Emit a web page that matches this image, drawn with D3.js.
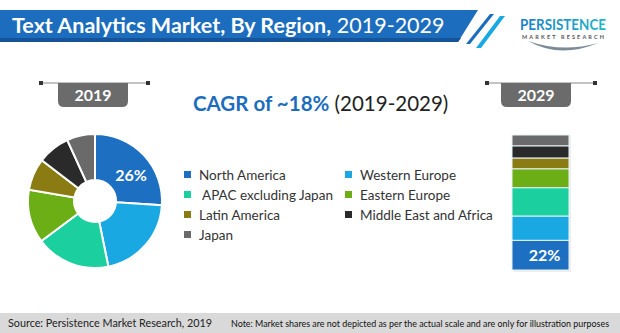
<!DOCTYPE html>
<html><head><meta charset="utf-8">
<script src="https://cdn.jsdelivr.net/npm/d3@7"></script>
<style>
html,body{margin:0;padding:0;background:#fff;}
svg{display:block;}
text{font-family:Lato,"Open Sans",sans-serif;}
</style></head>
<body>
<svg id="c" width="620" height="333"></svg>
<script>
const regions = ["North America","Western Europe","APAC excluding Japan","Eastern Europe","Latin America","Middle East and Africa","Japan"];
const colors = ["#1c6fc1","#1aa8e2","#1ccf9f","#6cae16","#8a7b12","#2a2a2a","#6a6a6a"];
const share2019 = [26,20.8,18,12.9,7.7,7.8,6.8];
const share2029 = [22,18,21,14,8,9,8];
const legendOrder = ["North America","Western Europe","APAC excluding Japan","Eastern Europe","Latin America","Middle East and Africa","Japan"];
const years = ["2019","2029"];
const pieLabel = "26%";
const barLabel = "22%";

const svg = d3.select("#c");

// Header banner
const hdr = svg.append("g");
hdr.append("path").attr("d","M0,10 L478,10 L458,42 L0,42 Z").attr("fill","#1c6dbe");
hdr.append("path").attr("d","M0,38 L461,38 L458,42 L0,42 Z").attr("fill","#15549a");
hdr.append("path").attr("d","M466,44 L490,14 L494,14 L470,44 Z").attr("fill","#1c6dbe");
hdr.append("path").attr("d","M476,48 L500,16 L505,16 L481,48 Z").attr("fill","#1aa8e2");
const title = hdr.append("text").attr("x",12).attr("y",33).attr("fill","#fff").attr("font-size",21.5);
title.append("tspan").attr("font-weight","bold").text("Text Analytics Market, By Region,");
title.append("tspan").text(" 2019-2029");

// Logo
const logo = svg.append("g");
const lg = svg.append("defs").append("linearGradient").attr("id","lg").attr("x1","0").attr("x2","1");
lg.append("stop").attr("offset","0").attr("stop-color","#1b7fc8");
lg.append("stop").attr("offset","1").attr("stop-color","#20b6c9");
logo.append("text").attr("x",563).attr("y",30).attr("text-anchor","middle").attr("font-size",15)
  .attr("font-family","'Liberation Sans Narrow','DejaVu Sans Condensed',sans-serif").attr("font-weight","bold")
  .attr("fill","url(#lg)").attr("textLength",86).attr("lengthAdjust","spacingAndGlyphs").text("PERSISTENCE");
logo.append("text").attr("x",563).attr("y",38.5).attr("text-anchor","middle").attr("font-size",5.5)
  .attr("font-weight","bold").attr("fill","#555").attr("textLength",82).attr("lengthAdjust","spacing").text("MARKET RESEARCH");
logo.append("path").attr("d","M528,41 Q560,59 598,43 Q562,53 528,41 Z").attr("fill","#7a8a96");

// Year tabs
function tab(cx, lineX0, lineX1, label){
  const g = svg.append("g");
  g.append("line").attr("x1",lineX0).attr("x2",lineX1).attr("y1",83).attr("y2",83).attr("stroke","#888").attr("stroke-width",1.2);
  g.append("rect").attr("x",lineX0-2).attr("y",81).attr("width",4).attr("height",4).attr("fill","#333");
  g.append("rect").attr("x",lineX1-2).attr("y",81).attr("width",4).attr("height",4).attr("fill","#333");
  const w=70, x0=cx-w/2, y0=83, h=24, r=6;
  g.append("path").attr("d",`M${x0},${y0} L${x0+w},${y0} L${x0+w},${y0+h-r} Q${x0+w},${y0+h} ${x0+w-r},${y0+h} L${x0+r},${y0+h} Q${x0},${y0+h} ${x0},${y0+h-r} Z`).attr("fill","#6b6b6b");
  g.append("text").attr("x",cx).attr("y",101).attr("text-anchor","middle").attr("fill","#fff")
    .attr("font-weight","bold").attr("font-size",16).text(label);
}
tab(93,41,148,years[0]);
tab(536,487,595,years[1]);

// CAGR
const cagr = svg.append("text").attr("x",193).attr("y",111).attr("font-size",20.5);
cagr.append("tspan").attr("font-weight","bold").attr("fill","#1c6dbe").text("CAGR of ~18%");
cagr.append("tspan").attr("fill","#222").text(" (2019-2029)");

// Pie
const pieData = regions.map((r,i)=>({region:r,value:share2019[i],color:colors[i]}));
const pie = d3.pie().sort(null).value(d=>d.value);
const arc = d3.arc().innerRadius(21).outerRadius(67);
const pg = svg.append("g").attr("transform","translate(95,201)");
pg.selectAll("path").data(pie(pieData)).join("path")
  .attr("d",arc).attr("fill",d=>d.data.color).attr("stroke","#fff").attr("stroke-width",2);
pg.append("text").attr("x",36).attr("y",-20).attr("text-anchor","middle").attr("fill","#fff")
  .attr("font-weight","bold").attr("font-size",16).text(pieLabel);

// Legend
const legX = d3.scalePoint().domain([0,1]).range([184,345]);
const legY = d3.scalePoint().domain([0,1,2,3]).range([175,235]);
const lgG = svg.append("g");
legendOrder.forEach((name,i)=>{
  const col = i%2, row = Math.floor(i/2);
  const c = colors[regions.indexOf(name)];
  lgG.append("rect").attr("x",legX(col)).attr("y",legY(row)-4).attr("width",7).attr("height",7).attr("fill",c);
  lgG.append("text").attr("x",legX(col)+(name.startsWith("APAC")?18:15)).attr("y",legY(row)+4.5)
    .attr("font-size",13.5).attr("fill","#333").text(name);
});

// Stacked bar 2029
const y = d3.scaleLinear().domain([0,100]).range([270,135]);
const x = d3.scaleBand().domain(["2029"]).range([512,569]).padding(0);
let cum = 0;
const stackData = regions.map((r,i)=>{const d={region:r,y0:cum,y1:cum+share2029[i],color:colors[i]}; cum+=share2029[i]; return d;});
const bg = svg.append("g");
bg.append("rect").attr("x",x("2029")+2).attr("y",y(100)).attr("width",x.bandwidth()).attr("height",y(0)-y(100)+2).attr("fill","#eee");
bg.selectAll("rect.seg").data(stackData).join("rect").attr("class","seg")
  .attr("x",x("2029")).attr("width",x.bandwidth())
  .attr("y",d=>y(d.y1)).attr("height",d=>y(d.y0)-y(d.y1))
  .attr("fill",d=>d.color).attr("stroke","#e8f3f8").attr("stroke-width",1);
bg.append("text").attr("x",x("2029")+x.bandwidth()/2+4).attr("y",y(share2029[0]/2)+6).attr("text-anchor","middle")
  .attr("fill","#fff").attr("font-weight","bold").attr("font-size",16).text(barLabel);

// Footer
svg.append("rect").attr("x",0).attr("y",313).attr("width",620).attr("height",20).attr("fill","#d9d9d9");
svg.append("text").attr("x",8).attr("y",327).attr("font-size",11.5).attr("fill","#222")
  .attr("textLength",204).attr("lengthAdjust","spacingAndGlyphs").text("Source: Persistence Market Research, 2019");
svg.append("text").attr("x",231).attr("y",327).attr("font-size",8.8).attr("fill","#111")
  .attr("font-family","'Liberation Sans Narrow','DejaVu Sans Condensed',sans-serif")
  .attr("textLength",378).attr("lengthAdjust","spacingAndGlyphs")
  .text("Note: Market shares are not depicted as per the actual scale and are only for illustration purposes");
</script>
</body></html>
